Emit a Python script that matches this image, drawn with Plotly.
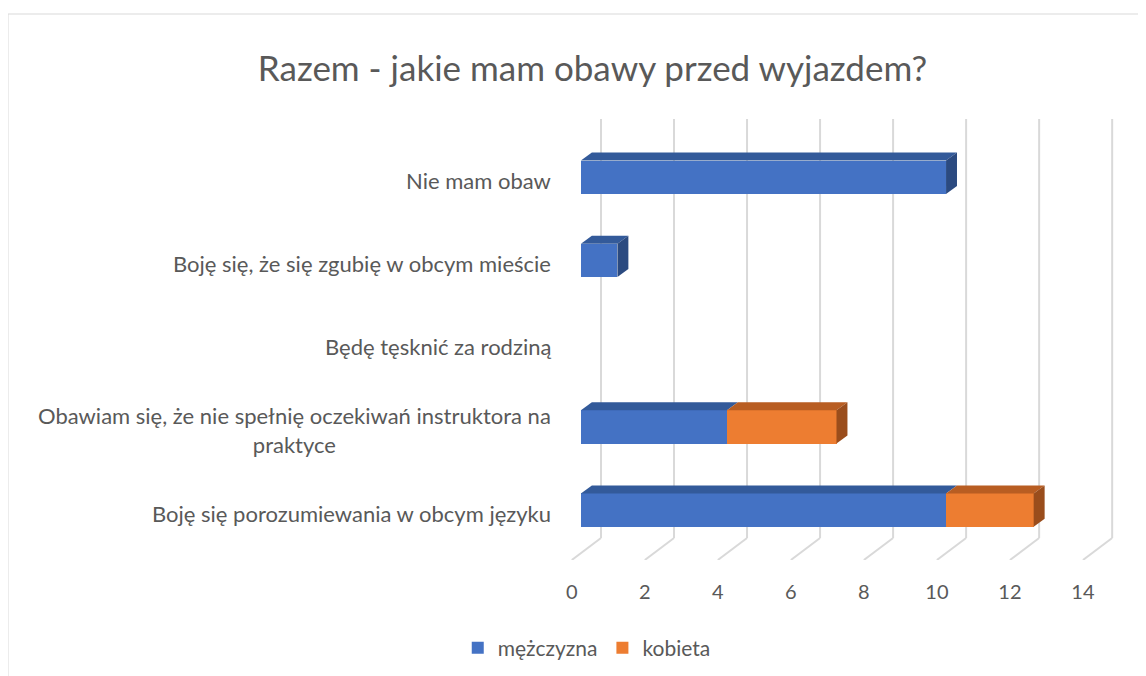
import plotly.graph_objects as go

categories = [
    "Boję się porozumiewania w obcym języku",
    "Obawiam się, że nie spełnię oczekiwań instruktora na<br>praktyce",
    "Będę tęsknić za rodziną",
    "Boję się, że się zgubię w obcym mieście",
    "Nie mam obaw",
]
men = [10, 4, 0, 1, 10]
women = [2.4, 3, 0, 0, 0]
x_ticks = [0, 2, 4, 6, 8, 10, 12, 14]

FONT = "Lato"
TXT = "#595959"
GRID = "#D9D9D9"
BLUE, BLUE_TOP, BLUE_SIDE = "#4472C4", "#335A9A", "#2B4A80"
ORANGE, ORANGE_TOP, ORANGE_SIDE = "#ED7D31", "#B85D22", "#9A4D1C"

ypos = list(range(len(categories)))
BAR_W = 0.4
DX, DY = 0.3, 0.096          # depth offset of the 3D faces
FRONT, BACK = -0.25, 0.55     # floor front/back offset (x units)
Y_FLOOR_FRONT, Y_FLOOR_BACK, Y_TOP = -0.6, -0.336, 4.7

fig = go.Figure()
fig.add_trace(go.Bar(y=ypos, x=men, orientation="h", name="mężczyzna",
                     marker=dict(color=BLUE, line=dict(width=0)), width=BAR_W))
fig.add_trace(go.Bar(y=ypos, x=women, orientation="h", name="kobieta",
                     marker=dict(color=ORANGE, line=dict(width=0)), width=BAR_W))

shapes = []
for t in x_ticks:
    shapes.append(dict(type="line", xref="x", yref="y", x0=t + BACK, y0=Y_FLOOR_BACK, x1=t + BACK, y1=Y_TOP,
                       line=dict(color=GRID, width=2), layer="below"))
    shapes.append(dict(type="line", xref="x", yref="y", x0=t + FRONT, y0=Y_FLOOR_FRONT, x1=t + BACK, y1=Y_FLOOR_BACK,
                       line=dict(color=GRID, width=2), layer="below"))

half = BAR_W / 2
for i, (m, w) in enumerate(zip(men, women)):
    segs = []
    if m > 0:
        segs.append((0, m, BLUE_TOP, BLUE_SIDE))
    if w > 0:
        segs.append((m, m + w, ORANGE_TOP, ORANGE_SIDE))
    for k, (a, b, top, side) in enumerate(segs):
        yt = i + half
        shapes.append(dict(type="path", xref="x", yref="y",
                           path=f"M {a},{yt} L {a+DX},{yt+DY} L {b+DX},{yt+DY} L {b},{yt} Z",
                           fillcolor=top, line=dict(width=0)))
        if k == len(segs) - 1:
            yb = i - half
            shapes.append(dict(type="path", xref="x", yref="y",
                               path=f"M {b},{yb} L {b+DX},{yb+DY} L {b+DX},{yt+DY} L {b},{yt} Z",
                               fillcolor=side, line=dict(width=0)))

L, R, T, B = 551, 40, 111, 124
PW, PH = 1146 - L - R, 676 - T - B
shapes.append(dict(type="rect", xref="paper", yref="paper", x0=-L / PW, x1=1 + 60 / PW,
                   y0=-140 / PH, y1=1 + (T - 6) / PH, line=dict(color=GRID, width=1)))

annotations = []
for i, c in enumerate(categories):
    annotations.append(dict(x=-6 / PW, y=i, xref="paper", yref="y", text=c, showarrow=False,
                            xanchor="right", yanchor="middle", align="center", yshift=-3,
                            font=dict(family=FONT, size=22, color=TXT)))

fig.update_layout(
    width=1146, height=676,
    margin=dict(l=L, r=R, t=T, b=B),
    paper_bgcolor="white", plot_bgcolor="white",
    barmode="stack", bargap=0.5,
    title=dict(text="Razem - jakie mam obawy przed wyjazdem?", x=0.51, xanchor="center",
               y=0.91, yanchor="middle", font=dict(family=FONT, size=35, color=TXT)),
    xaxis=dict(range=[-0.6, 14.6], tickvals=[t + FRONT for t in x_ticks], ticktext=[str(t) for t in x_ticks],
               showgrid=False, zeroline=False, showline=False, ticks="outside", ticklen=14,
               tickcolor="rgba(0,0,0,0)", tickfont=dict(family=FONT, size=20, color=TXT)),
    yaxis=dict(range=[Y_FLOOR_FRONT, Y_TOP], showticklabels=False, showgrid=False, zeroline=False,
               showline=False, fixedrange=True),
    legend=dict(orientation="h", x=0.05, xanchor="center", y=-0.2, yanchor="middle",
                font=dict(family=FONT, size=21, color=TXT), traceorder="normal"),
    shapes=shapes, annotations=annotations, showlegend=True,
)

fig.write_html("out.html")
